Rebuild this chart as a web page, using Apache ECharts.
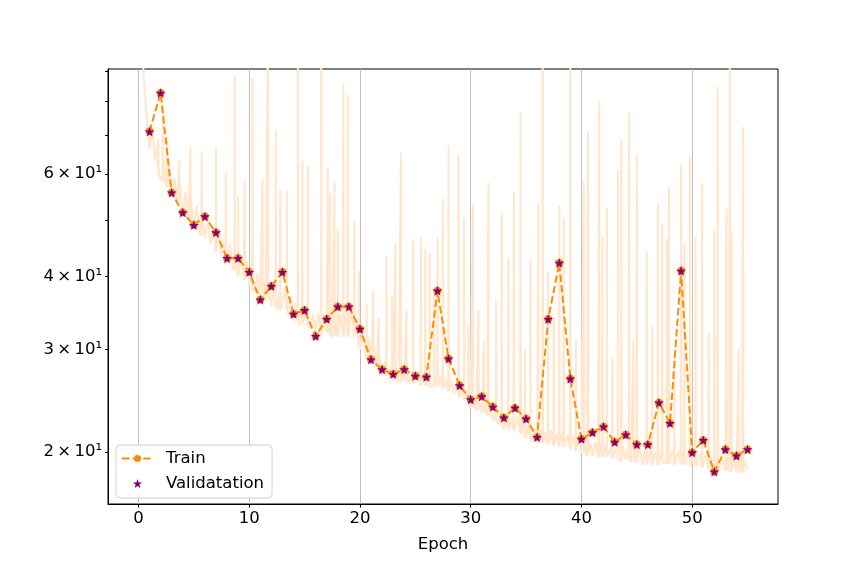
<!DOCTYPE html>
<html>
<head>
<meta charset="utf-8">
<script src="https://cdn.jsdelivr.net/npm/echarts@6/dist/echarts.min.js"></script>
<style>
  html, body { margin: 0; padding: 0; background: #fff; }
  #main { width: 864px; height: 576px; }
</style>
</head>
<body>
<div id="main"></div>
<script>
// epochs and per-epoch losses
const epochs = [1, 2, 3, 4, 5, 6, 7, 8, 9, 10, 11, 12, 13, 14, 15, 16, 17, 18, 19, 20,
  21, 22, 23, 24, 25, 26, 27, 28, 29, 30, 31, 32, 33, 34, 35, 36, 37, 38, 39, 40,
  41, 42, 43, 44, 45, 46, 47, 48, 49, 50, 51, 52, 53, 54, 55]
const trainLoss = [70.9, 82.6, 55.7, 51.5, 49.0, 50.7, 47.6, 43.0, 43.0, 40.7,
  36.5, 38.5, 40.7, 34.5, 35.0, 31.6, 33.8, 35.5, 35.5, 32.5,
  28.8, 27.7, 27.2, 27.7, 27.0, 26.9, 37.8, 28.9, 26.0, 24.6,
  24.9, 23.9, 22.9, 23.8, 22.8, 21.2, 33.8, 42.2, 26.7, 21.05,
  21.6, 22.1, 20.8, 21.4, 20.6, 20.6, 24.3, 22.4, 40.9, 19.95,
  20.95, 18.5, 20.2, 19.7, 20.2]
const validLoss = [70.9, 82.6, 55.7, 51.5, 49.0, 50.7, 47.6, 43.0, 43.0, 40.7,
  36.5, 38.5, 40.7, 34.5, 35.0, 31.6, 33.8, 35.5, 35.5, 32.5,
  28.8, 27.7, 27.2, 27.7, 27.0, 26.9, 37.8, 28.9, 26.0, 24.6,
  24.9, 23.9, 22.9, 23.8, 22.8, 21.2, 33.8, 42.2, 26.7, 21.05,
  21.6, 22.1, 20.8, 21.4, 20.6, 20.6, 24.3, 22.4, 40.9, 19.95,
  20.95, 18.5, 20.2, 19.7, 20.2]

// batch loss (light line), one value every quarter epoch
const batchStep = 0.25
const batchLoss = [
  140, 108, 86, 75,
  66, 72, 63, 68,
  59, 64, 57, 62,
  55, 59, 54, 57,
  51, 56, 50, 54,
  48, 53, 47.5, 51,
  46.5, 50, 45.5, 48.5,
  44.5, 48, 43.5, 46.5,
  42, 45.5, 41.5, 44,
  40.5, 43.5, 39.5, 42.5,
  38.5, 42, 37.5, 40.5,
  37, 40, 36.5, 39,
  35.5, 38.5, 35, 37.5,
  35, 38, 34.5, 37,
  33.5, 36, 33, 35.5,
  33, 35.5, 32.5, 34.5,
  32, 34.5, 31.5, 33.5,
  32, 34, 31.5, 33.5,
  31.5, 34.5, 31.6, 35,
  32, 35.5, 31.5, 34,
  30, 32.5, 29.5, 31.5,
  28.5, 30.5, 28, 29.5,
  27, 28.5, 26.8, 28,
  26.5, 28, 26.3, 27.5,
  26.5, 28, 26.2, 27.5,
  26.2, 27.5, 26, 27.2,
  26, 27.3, 25.9, 27,
  25.9, 27, 25.6, 26.6,
  25.4, 26.5, 25.2, 26.2,
  24.8, 26, 24.5, 25.5,
  23.8, 25, 23.5, 24.6,
  23.3, 24.6, 23, 24.2,
  22.6, 23.8, 22.3, 23.5,
  21.9, 23.2, 21.7, 22.8,
  21.6, 23, 21.4, 22.6,
  21.1, 22.3, 20.8, 22,
  20.7, 21.8, 20.6, 21.6,
  20.6, 21.8, 20.5, 21.5,
  20.4, 21.6, 20.3, 21.4,
  20.2, 21.3, 20, 21,
  19.9, 21, 19.7, 20.8,
  19.7, 20.8, 19.6, 20.7,
  19.6, 20.8, 19.5, 20.6,
  19.4, 20.5, 19.3, 20.4,
  19.4, 20.5, 19.2, 20.3,
  19.2, 20.3, 19.0, 20.2,
  19.1, 20.2, 19.0, 20.1,
  19.2, 20.3, 19.1, 20.2,
  19.1, 20.2, 19.0, 20.1,
  19.0, 20.1, 18.9, 20.0,
  18.9, 20.0, 18.8, 19.8,
  18.8, 19.8, 18.6, 19.6,
  18.5, 19.5, 18.4, 19.4,
  18.6, 19.6, 18.5, 19.5,
  18.5, 19.5, 18.4, 19.4,
  18.6
]
// spikes in the batch loss: [epoch, peak, level just around it]
const batchSpikes = [
  [1.8, 68.8, 60], [2.2, 80, 58], [2.6, 69.6, 57], [3.7, 63.4, 54], [4.7, 66.8, 50],
  [5.7, 65.6, 47], [7.0, 66.6, 44], [7.9, 60.2, 42], [8.7, 88.2, 41], [9.0, 55.0, 40],
  [9.6, 58.4, 39.5], [10.3, 87.5, 38], [11.2, 58.8, 37], [11.7, 120, 36.5], [12.4, 71.3, 35.5],
  [12.8, 56.3, 35], [13.4, 56.3, 35], [14.4, 120, 33.5], [14.8, 63.1, 33.2], [15.3, 61.9, 33],
  [16.5, 120, 32], [17.1, 61.5, 32], [17.3, 55.7, 31.8], [17.7, 58.0, 31.6], [18.0, 48.0, 31.5],
  [18.5, 85.7, 31.5], [18.9, 82.0, 31.5], [19.5, 49.7, 31.5], [19.9, 40.9, 30.5],
  [20.6, 36, 29], [21.2, 38, 28.5], [21.7, 34, 28], [22.4, 43.3, 27], [22.9, 37, 26.8],
  [23.2, 45.5, 26.5], [23.7, 65.2, 26.4], [24.2, 35, 26.3], [24.8, 46.3, 26.2], [25.5, 46.8, 26],
  [25.9, 44.6, 26], [26.3, 44.0, 25.9], [26.7, 38, 25.9], [27.0, 46.7, 25.9], [27.5, 54.4, 25.7],
  [28.0, 67.0, 25.4], [28.9, 64.9, 25], [29.4, 50.5, 24.6], [29.8, 33, 24.5], [30.2, 53.2, 23.8],
  [30.7, 35, 23.6], [31.2, 31, 23.3], [31.6, 57.9, 23.1], [32.3, 36.5, 22.6], [32.8, 51.3, 22.3],
  [33.4, 43.1, 21.8], [33.9, 55.8, 21.7], [34.5, 76.6, 21.5], [34.9, 30, 21.3], [35.4, 42.9, 21],
  [36.1, 53.6, 20.7], [36.5, 120, 20.7], [37.0, 40.7, 20.6], [37.5, 34, 20.5], [38.0, 52.9, 20.4],
  [38.4, 50.6, 20.4], [39.0, 120, 20.2], [39.5, 31, 20.1], [40.2, 58.4, 19.9], [40.6, 70.8, 19.8],
  [41.6, 80.0, 19.6], [41.9, 46.8, 19.6], [42.3, 52.3, 19.6], [42.8, 29, 19.5], [43.3, 61.0, 19.4],
  [43.6, 68.8, 19.3], [44.3, 76.7, 19.4], [44.7, 31, 19.2], [45.0, 64.8, 19.2], [45.9, 44.2, 19.0],
  [46.4, 33, 19.0], [46.9, 53.4, 19.0], [47.3, 49.1, 19.2], [47.7, 46.4, 19.1], [47.9, 56.9, 19.1],
  [48.4, 30, 19.0], [49.0, 62.4, 19.0], [49.3, 45.7, 19.0], [49.8, 64.4, 18.9], [50.3, 46.8, 18.9],
  [50.9, 57.9, 18.8], [51.5, 32, 18.7], [52.0, 48.1, 18.5], [52.3, 84.6, 18.5], [53.1, 52.4, 18.6],
  [53.4, 120, 18.5], [53.55, 48.0, 18.5], [54.2, 30, 18.4], [54.6, 72.1, 18.4]
]

// axes
const xMin = -2.75
const xMax = 57.75
const xTicks = [0, 10, 20, 30, 40, 50]
const yMin = 16.28
const yMax = 90.8
const yTicks = [20, 30, 40, 50, 60, 70, 80, 90]
const yLabels = [20, 30, 40, 60]

const starPath = 'path://M50,0 L61.23,34.55 L97.55,34.55 L68.16,55.9 L79.39,90.45 L50,69.1 L20.61,90.45 L31.84,55.9 L2.45,34.55 L38.77,34.55 Z'
const font = 'DejaVu Sans'

// light line: quarter-epoch samples plus narrow spikes
const batchPoints = batchLoss.map((v, i) => [i * batchStep, v])
batchSpikes.forEach(([x, peak, lvl]) => {
  batchPoints.push([x - 0.03, lvl], [x, peak], [x + 0.03, lvl])
})
batchPoints.sort((a, b) => a[0] - b[0])

const myChart = echarts.init(document.getElementById('main'))
myChart.setOption({
  animation: false,
  backgroundColor: '#fff',
  grid: {
    left: 108,
    right: 86,
    top: 69,
    bottom: 72,
    show: true,
    borderColor: '#000',
    borderWidth: 1,
    backgroundColor: 'transparent'
  },
  legend: {
    data: ['Train', 'Validatation'],
    orient: 'vertical',
    left: 116,
    top: 445,
    backgroundColor: '#fff',
    borderColor: '#d0d0d0',
    borderWidth: 1,
    borderRadius: 4,
    padding: [4, 8, 5, 5],
    itemWidth: 31,
    itemHeight: 9,
    itemGap: 6,
    textStyle: { fontFamily: font, fontSize: 16.5, color: '#000', lineHeight: 19, padding: [0, 0, 0, 8] }
  },
  xAxis: {
    type: 'value',
    min: xMin,
    max: xMax,
    name: 'Epoch',
    nameLocation: 'middle',
    nameGap: 32,
    nameTextStyle: { fontFamily: font, fontSize: 16.5, color: '#000' },
    axisLine: { show: true, lineStyle: { color: '#000', width: 1 } },
    axisTick: { show: true, customValues: xTicks, length: 3.5, lineStyle: { color: '#000' } },
    axisLabel: { customValues: xTicks, fontFamily: font, fontSize: 16.5, color: '#000', margin: 6 },
    splitLine: { show: true, lineStyle: { color: '#b0b0b0', width: 0.8 } }
  },
  yAxis: [
    {
      // data axis (log scale)
      type: 'log',
      logBase: 10,
      min: yMin,
      max: yMax,
      show: false
    },
    {
      // display axis in log10 units for the matplotlib-style labels
      type: 'value',
      position: 'left',
      min: Math.log10(yMin),
      max: Math.log10(yMax),
      axisLine: { show: true, lineStyle: { color: '#000', width: 1 } },
      axisTick: { show: true, customValues: yTicks.map(v => Math.log10(v)), length: 3, lineStyle: { color: '#000' } },
      axisLabel: {
        customValues: yLabels.map(v => Math.log10(v)),
        fontFamily: font,
        fontSize: 16.5,
        color: '#000',
        margin: 6,
        formatter: v => Math.round(Math.pow(10, v) / 10) + '\u2009×\u200910\u00B9'
      },
      splitLine: { show: false }
    }
  ],
  series: [
    {
      name: 'batch',
      type: 'line',
      yAxisIndex: 0,
      data: batchPoints,
      showSymbol: false,
      silent: true,
      z: 1,
      lineStyle: { color: '#ffe6cc', width: 2 }
    },
    {
      name: 'Train',
      type: 'line',
      yAxisIndex: 0,
      data: epochs.map((e, i) => [e, trainLoss[i]]),
      symbol: 'circle',
      symbolSize: 8,
      showAllSymbol: true,
      z: 3,
      itemStyle: { color: '#ff8c00', opacity: 1 },
      lineStyle: { color: '#ff8c00', width: 2, type: [7.4, 3.2] }
    },
    {
      name: 'Validatation',
      type: 'scatter',
      yAxisIndex: 0,
      data: epochs.map((e, i) => [e, validLoss[i]]),
      symbol: starPath,
      symbolSize: 10,
      z: 4,
      itemStyle: { color: '#800080', opacity: 1 }
    }
  ]
})
</script>
</body>
</html>
